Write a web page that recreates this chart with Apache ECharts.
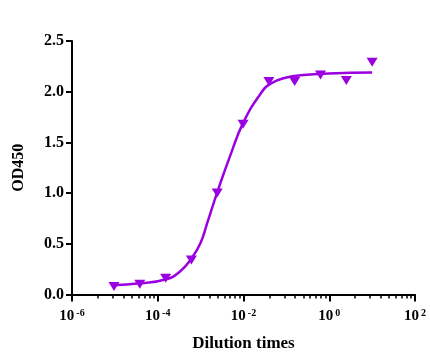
<!DOCTYPE html>
<html>
<head>
<meta charset="utf-8">
<script src="https://cdn.jsdelivr.net/npm/echarts@6/dist/echarts.min.js"></script>
<style>html,body{margin:0;padding:0;background:#fff}#c{width:430px;height:358px}</style>
</head>
<body>
<div id="c"></div>
<script>
// Measured points
var dilution = [9.54e-6, 3.81e-5, 1.53e-4, 6.10e-4, 2.44e-3, 9.77e-3, 3.91e-2, 0.156, 0.625, 2.5, 10];
var od450 = [0.08, 0.10, 0.16, 0.34, 1.00, 1.68, 2.10, 2.10, 2.165, 2.11, 2.29];
// Fitted curve
var fitX = [9.1e-6, 3.9e-5, 1.58e-4, 3.16e-4, 6.0e-4, 1.0e-3, 1.41e-3, 2.45e-3, 5.0e-3, 1.0e-2, 2.5e-2, 4.3e-2, 0.1, 0.25, 1, 10];
var fitY = [0.09, 0.11, 0.15, 0.22, 0.35, 0.51, 0.70, 1.01, 1.38, 1.70, 1.98, 2.08, 2.14, 2.165, 2.18, 2.19];
// Tick values
var xMajorTicks = [1e-6, 1e-4, 1e-2, 1, 100];
var xTickExps = ['-6', '-4', '-2', '0', '2'];
var xMinorTicks = [];
var minorMults = [4, 9, 16, 25, 36, 49, 64, 81];
for (var i = 0; i < xMajorTicks.length - 1; i++) {
  for (var j = 0; j < minorMults.length; j++) xMinorTicks.push(xMajorTicks[i] * minorMults[j]);
}
var yTicks = ['0.0', '0.5', '1.0', '1.5', '2.0', '2.5'];

var purple = '#9B00E0';
var font = 'Liberation Serif';
var chart = echarts.init(document.getElementById('c'));
function toPairs(xs, ys) { return xs.map(function (x, k) { return [x, ys[k]]; }); }
chart.setOption({
  animation: false,
  grid: { left: 72, right: 15, top: 41, bottom: 63.5, containLabel: false },
  xAxis: [{
    type: 'log', logBase: 100, min: 1e-6, max: 100,
    name: 'Dilution times', nameLocation: 'middle', nameGap: 41,
    nameTextStyle: { fontFamily: font, fontWeight: 'bold', fontSize: 17, color: '#000' },
    axisLine: { lineStyle: { color: '#000', width: 2 } },
    axisTick: { show: true, length: 7, lineStyle: { color: '#000', width: 2 }, customValues: xMajorTicks },
    axisLabel: {
      margin: 14, customValues: xMajorTicks,
      formatter: function (v) {
        var idx = 0, best = Infinity;
        for (var k = 0; k < xMajorTicks.length; k++) { var d = Math.abs(Math.log10(v) - Math.log10(xMajorTicks[k])); if (d < best) { best = d; idx = k; } }
        return '{b|10}{s|' + xTickExps[idx] + '}';
      },
      rich: {
        b: { fontFamily: font, fontWeight: 'bold', fontSize: 15, color: '#000' },
        s: { fontFamily: font, fontWeight: 'bold', fontSize: 10, color: '#000', verticalAlign: 'top', padding: [0, 0, 0, 2] }
      }
    },
    splitLine: { show: false }
  }, {
    type: 'log', logBase: 100, min: 1e-6, max: 100, position: 'bottom',
    axisLine: { show: false },
    axisTick: { show: true, length: 4, lineStyle: { color: '#000', width: 1.5 }, customValues: xMinorTicks },
    axisLabel: { show: false },
    splitLine: { show: false }
  }],
  yAxis: {
    type: 'value', min: 0, max: 2.5, interval: 0.5,
    name: 'OD450', nameLocation: 'middle', nameGap: 45,
    nameTextStyle: { fontFamily: font, fontWeight: 'bold', fontSize: 16, color: '#000' },
    axisLine: { show: true, lineStyle: { color: '#000', width: 2 } },
    axisTick: { show: true, length: 6, lineStyle: { color: '#000', width: 2 } },
    axisLabel: {
      margin: 8, fontFamily: font, fontWeight: 'bold', fontSize: 16, color: '#000',
      formatter: function (v) { return yTicks[Math.round(v / 0.5)]; }
    },
    splitLine: { show: false }
  },
  series: [{
    type: 'line', xAxisIndex: 0, data: toPairs(fitX, fitY), smooth: 0.5, showSymbol: false, symbol: 'none',
    lineStyle: { color: purple, width: 2.5 }, z: 2
  }, {
    type: 'scatter', xAxisIndex: 0, data: toPairs(dilution, od450),
    symbol: 'triangle', symbolRotate: 180, symbolSize: [11, 9],
    itemStyle: { color: purple, opacity: 1 }, z: 3
  }]
});
</script>
</body>
</html>
